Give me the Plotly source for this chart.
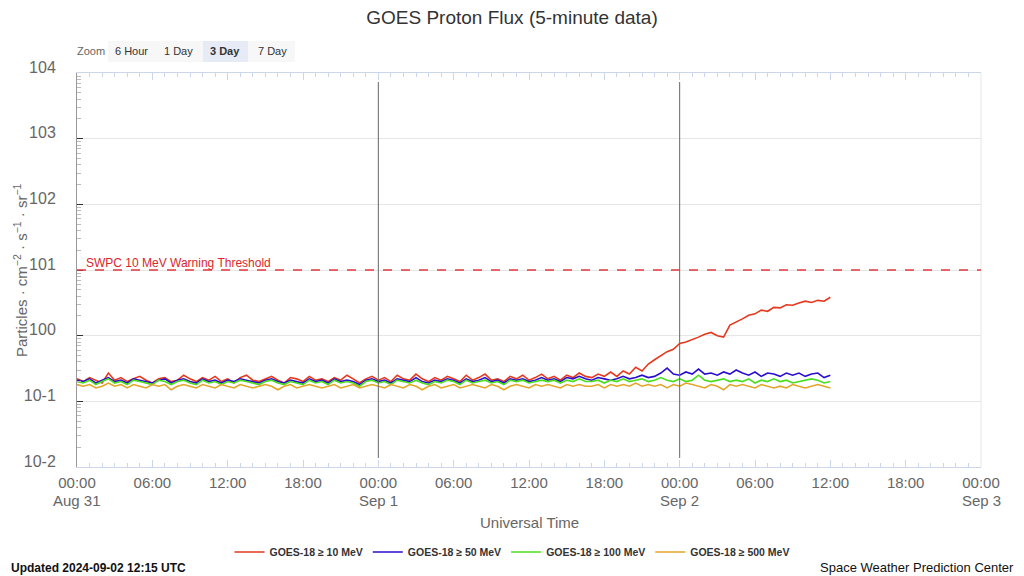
import pandas as pd
import plotly.graph_objects as go

# ---------------- data (30-minute samples, from 2024-08-31 00:00 UTC) ----------------
start_time = "2024-08-31 00:00"
step = "30min"

p10 = [
    0.22, 0.20, 0.23, 0.21, 0.19, 0.27, 0.21, 0.23, 0.20, 0.22,
    0.24, 0.21, 0.19, 0.22, 0.23, 0.20, 0.21, 0.25, 0.22, 0.20,
    0.23, 0.21, 0.24, 0.20, 0.22, 0.19, 0.23, 0.25, 0.21, 0.20,
    0.22, 0.24, 0.21, 0.19, 0.23, 0.22, 0.20, 0.24, 0.21, 0.22,
    0.20, 0.23, 0.21, 0.25, 0.22, 0.19, 0.22, 0.24, 0.21, 0.23,
    0.20, 0.25, 0.22, 0.21, 0.26, 0.22, 0.20, 0.23, 0.21, 0.24,
    0.22, 0.20, 0.25, 0.21, 0.23, 0.26, 0.21, 0.22, 0.20, 0.24,
    0.22, 0.25, 0.21, 0.23, 0.26, 0.22, 0.24, 0.21, 0.25, 0.23,
    0.27, 0.24,
    0.23, 0.26, 0.24, 0.28, 0.24, 0.29, 0.26, 0.33, 0.29, 0.37,
    0.43, 0.50, 0.57, 0.62, 0.76, 0.80, 0.86, 0.95, 1.05, 1.12,
    1.00, 0.95, 1.45, 1.60, 1.80, 2.05, 2.15, 2.45, 2.35, 2.70,
    2.65, 2.95, 2.90, 3.15, 3.35, 3.20, 3.45, 3.35, 3.85,
]
p50 = [
    0.21, 0.20, 0.22, 0.19, 0.21, 0.23, 0.20, 0.21, 0.19, 0.22,
    0.21, 0.20, 0.19, 0.21, 0.22, 0.19, 0.21, 0.22, 0.20, 0.19,
    0.22, 0.20, 0.21, 0.19, 0.21, 0.20, 0.22, 0.21, 0.20, 0.19,
    0.21, 0.22, 0.20, 0.19, 0.21, 0.20, 0.19, 0.22, 0.20, 0.21,
    0.19, 0.22, 0.20, 0.21, 0.20, 0.18, 0.21, 0.22, 0.20, 0.21,
    0.19, 0.22, 0.21, 0.20, 0.23, 0.20, 0.19, 0.21, 0.20, 0.22,
    0.21, 0.19, 0.22, 0.20, 0.21, 0.23, 0.20, 0.21, 0.19, 0.22,
    0.21, 0.22, 0.20, 0.21, 0.23, 0.21, 0.22, 0.20, 0.23, 0.22,
    0.24, 0.22,
    0.21, 0.23, 0.22, 0.21, 0.22, 0.24, 0.22, 0.23, 0.25, 0.23,
    0.24, 0.27, 0.32, 0.26, 0.25, 0.28, 0.26, 0.31, 0.26, 0.27,
    0.25, 0.28, 0.26, 0.30, 0.27, 0.25, 0.28, 0.24, 0.27, 0.26,
    0.24, 0.27, 0.25, 0.27, 0.24, 0.26, 0.27, 0.23, 0.25,
]
p100 = [
    0.20, 0.19, 0.21, 0.18, 0.20, 0.22, 0.19, 0.20, 0.18, 0.21,
    0.20, 0.19, 0.18, 0.21, 0.20, 0.18, 0.20, 0.21, 0.19, 0.18,
    0.21, 0.19, 0.20, 0.18, 0.20, 0.19, 0.21, 0.20, 0.19, 0.18,
    0.20, 0.21, 0.19, 0.18, 0.20, 0.19, 0.18, 0.21, 0.19, 0.20,
    0.18, 0.21, 0.19, 0.20, 0.19, 0.17, 0.20, 0.21, 0.19, 0.20,
    0.18, 0.21, 0.20, 0.19, 0.21, 0.19, 0.18, 0.20, 0.19, 0.21,
    0.20, 0.18, 0.21, 0.19, 0.20, 0.21, 0.19, 0.20, 0.18, 0.21,
    0.20, 0.21, 0.19, 0.20, 0.21, 0.20, 0.21, 0.19, 0.21, 0.20,
    0.22, 0.20,
    0.20, 0.21, 0.19, 0.21, 0.20, 0.22, 0.20, 0.21, 0.22, 0.20,
    0.21, 0.23, 0.21, 0.20, 0.22, 0.20, 0.21, 0.25, 0.21, 0.20,
    0.21, 0.22, 0.20, 0.21, 0.20, 0.22, 0.19, 0.21, 0.20, 0.22,
    0.20, 0.21, 0.19, 0.20, 0.21, 0.22, 0.21, 0.19, 0.20,
]
p500 = [
    0.18, 0.17, 0.18, 0.16, 0.17, 0.19, 0.17, 0.18, 0.16, 0.18,
    0.17, 0.16, 0.18, 0.17, 0.18, 0.15, 0.17, 0.18, 0.17, 0.16,
    0.18, 0.17, 0.16, 0.18, 0.17, 0.16, 0.18, 0.17, 0.16, 0.17,
    0.18, 0.17, 0.15, 0.17, 0.18, 0.16, 0.17, 0.18, 0.17, 0.16,
    0.17, 0.18, 0.16, 0.17, 0.18, 0.16, 0.17, 0.18, 0.17, 0.16,
    0.18, 0.17, 0.16, 0.18, 0.17, 0.15, 0.17, 0.18, 0.16, 0.17,
    0.18, 0.16, 0.17, 0.18, 0.17, 0.16, 0.18, 0.17, 0.15, 0.17,
    0.18, 0.17, 0.16, 0.18, 0.17, 0.18, 0.17, 0.16, 0.18, 0.17,
    0.18, 0.17,
    0.17, 0.18, 0.16, 0.18, 0.17, 0.18, 0.17, 0.19, 0.17, 0.18,
    0.17, 0.18, 0.16, 0.18, 0.17, 0.19, 0.18, 0.17, 0.16, 0.18,
    0.17, 0.15, 0.18, 0.17, 0.18, 0.17, 0.16, 0.18, 0.17, 0.16,
    0.17, 0.16, 0.18, 0.17, 0.16, 0.17, 0.18, 0.17, 0.16,
]

series_names = ["GOES-18 ≥ 10 MeV", "GOES-18 ≥ 50 MeV", "GOES-18 ≥ 100 MeV", "GOES-18 ≥ 500 MeV"]
series_values = [p10, p50, p100, p500]
series_colors = ["#e5381d", "#2a0ed0", "#4ade1f", "#e3a52a"]

threshold_value = 10
threshold_label = "SWPC 10 MeV Warning Threshold"

x_tick_times = pd.date_range("2024-08-31 00:00", "2024-09-03 00:00", freq="6h")
x_tick_text = ["00:00", "06:00", "12:00", "18:00"] * 3 + ["00:00"]
day_label_times = ["2024-08-31 00:00", "2024-09-01 00:00", "2024-09-02 00:00", "2024-09-03 00:00"]
day_label_text = ["Aug 31", "Sep 1", "Sep 2", "Sep 3"]
day_lines = ["2024-09-01 00:00", "2024-09-02 00:00"]

y_tick_vals = [1e-2, 1e-1, 1e0, 1e1, 1e2, 1e3, 1e4]
y_tick_text = ["10-2", "10-1", "100", "101", "102", "103", "104"]
y_minor_vals = [m * 10.0 ** e for e in range(-2, 4) for m in range(2, 10)]

x_title = "Universal Time"
y_title = "Particles · cm<sup>−2</sup> · s<sup>−1</sup> · sr<sup>−1</sup>"

zoom_buttons = ["6 Hour", "1 Day", "3 Day", "7 Day"]
zoom_centers_px = [131, 178, 225, 272]
selected_button = "3 Day"

FONT = "Liberation Sans, Arial, sans-serif"
L, T, W, H = 77, 73, 904, 394  # plot area in pixels


def px_x(px):
    return (px - L) / W


def px_y(py):
    return (T + H - py) / H


# ---------------- figure ----------------
fig = go.Figure()
for name, vals, col in zip(series_names, series_values, series_colors):
    t = pd.date_range(start_time, periods=len(vals), freq=step)
    fig.add_trace(go.Scatter(x=t, y=vals, name=name, mode="lines",
                             line=dict(color=col, width=1.6)))

# helper trace for the minor y tick axis
fig.add_trace(go.Scatter(x=[], y=[], yaxis="y2", showlegend=False, hoverinfo="skip"))

x_range = ["2024-08-31 00:00", "2024-09-03 00:00"]

fig.update_layout(
    width=1024, height=576,
    margin=dict(l=L, r=1024 - L - W, t=T, b=576 - T - H, autoexpand=False),
    paper_bgcolor="white", plot_bgcolor="white",
    font=dict(family=FONT, color="#333"),
    title=dict(text="GOES Proton Flux (5-minute data)", x=0.5, xanchor="center",
               y=1 - 17 / 576, yanchor="middle", font=dict(size=19, color="#333", family=FONT)),
    showlegend=True,
    legend=dict(orientation="h", x=0.5, xanchor="center", xref="container",
                y=1 - 552 / 576, yanchor="middle", yref="container",
                font=dict(size=10.5, color="#333", family=FONT, weight="bold"),
                itemwidth=30, tracegroupgap=0),
    xaxis=dict(
        type="date", range=x_range, automargin=False,
        tickmode="array", tickvals=x_tick_times, ticktext=x_tick_text,
        tickfont=dict(size=15, color="#666"),
        ticks="inside", ticklen=7, tickcolor="#ccd6eb",
        ticklabelstandoff=2,
        minor=dict(dtick=3600000, ticks="inside", ticklen=4, tickcolor="#ccd6eb", showgrid=False),
        showgrid=False, zeroline=False,
        showline=True, linecolor="#ccd6eb", linewidth=1, mirror="ticks",
    ),
    yaxis=dict(
        type="log", range=[-2, 4], automargin=False,
        tickmode="array", tickvals=y_tick_vals, ticktext=y_tick_text,
        tickfont=dict(size=16, color="#666"),
        ticks="inside", ticklen=6, tickcolor="#333",
        ticklabelstandoff=17, ticklabelshift=-6,
        showgrid=True, gridcolor="#e6e6e6", gridwidth=1,
        zeroline=False, showline=True, linecolor="#999", linewidth=1,
    ),
    yaxis2=dict(
        type="log", range=[-2, 4], overlaying="y", side="left", automargin=False,
        tickmode="array", tickvals=y_minor_vals, showticklabels=False,
        ticks="inside", ticklen=4, tickcolor="#bbb",
        showgrid=False, zeroline=False, showline=False,
    ),
)

# date labels under the time ticks
for tx, lbl in zip(day_label_times, day_label_text):
    fig.add_annotation(text=lbl, xref="x", yref="paper", x=tx, y=px_y(500),
                       xanchor="center", yanchor="middle", showarrow=False,
                       font=dict(size=15, color="#666", family=FONT))

# axis titles
fig.add_annotation(text=x_title, xref="paper", yref="paper", x=0.5, y=px_y(522),
                   xanchor="center", yanchor="middle", showarrow=False,
                   font=dict(size=15, color="#666", family=FONT))
fig.add_annotation(text=y_title, xref="paper", yref="paper", x=px_x(20), y=0.5,
                   xanchor="center", yanchor="middle", textangle=-90, showarrow=False,
                   font=dict(size=15, color="#666", family=FONT))

# right border
fig.add_shape(type="line", xref="paper", yref="paper", x0=1, x1=1, y0=0, y1=1,
              line=dict(color="#e6e6e6", width=1))

# day separators
for d in day_lines:
    fig.add_shape(type="line", xref="x", yref="paper", x0=d, x1=d, y0=0.023, y1=0.977,
                  line=dict(color="#666", width=1))

# warning threshold
fig.add_shape(type="line", xref="paper", yref="y", x0=0, x1=1, y0=threshold_value, y1=threshold_value,
              line=dict(color="#e0393e", width=1.3, dash="dash"))
fig.add_annotation(text=threshold_label, xref="paper", yref="y", x=0.008, y=1, xanchor="left",
                   yanchor="bottom", showarrow=False, font=dict(size=12, color="#d9262e", family=FONT),
                   yshift=-2)

# zoom buttons
fig.add_shape(type="rect", xref="paper", yref="paper", x0=px_x(108), x1=px_x(295),
              y0=px_y(62), y1=px_y(41), line=dict(width=0), fillcolor="#f7f7f7", layer="below")
fig.add_shape(type="rect", xref="paper", yref="paper", x0=px_x(203), x1=px_x(248),
              y0=px_y(62), y1=px_y(41), line=dict(width=0), fillcolor="#e6ebf5", layer="below")
btn_y = px_y(51)
fig.add_annotation(text="Zoom", xref="paper", yref="paper", x=px_x(91), y=btn_y,
                   xanchor="center", yanchor="middle",
                   showarrow=False, font=dict(size=11, color="#666", family=FONT))
for lbl, cx in zip(zoom_buttons, zoom_centers_px):
    fig.add_annotation(text=("<b>%s</b>" % lbl) if lbl == selected_button else lbl,
                       xref="paper", yref="paper", x=px_x(cx), y=btn_y,
                       xanchor="center", yanchor="middle",
                       showarrow=False, font=dict(size=11, color="#333", family=FONT))

# footer
fig.add_annotation(text="<b>Updated 2024-09-02 12:15 UTC</b>", xref="paper", yref="paper",
                   x=px_x(9), y=px_y(568), xanchor="left", yanchor="middle",
                   showarrow=False, font=dict(size=12, color="#111", family=FONT))
fig.add_annotation(text="Space Weather Prediction Center", xref="paper", yref="paper",
                   x=px_x(1016), y=px_y(567), xanchor="right", yanchor="middle",
                   showarrow=False, font=dict(size=13, color="#111", family=FONT))

fig.write_html("out.html")
